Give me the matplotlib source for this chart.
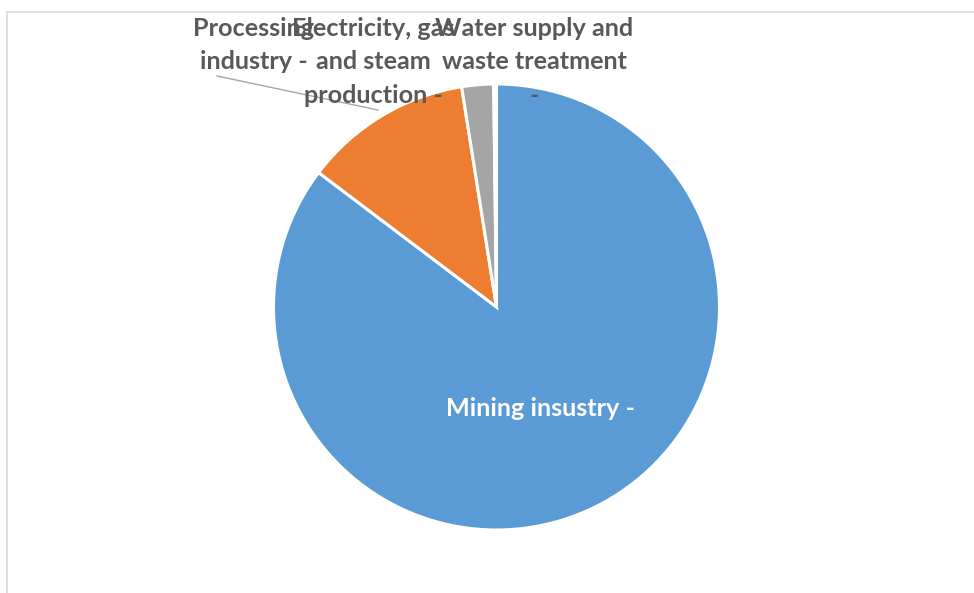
import matplotlib.pyplot as plt
from matplotlib.patches import Rectangle

# Share of output by industry (percent)
sectors = ["Mining insustry -", "Processing\nindustry -",
           "Electricity, gas\nand steam\nproduction -",
           "Water supply and\nwaste treatment\n-"]
shares = [85.3, 12.2, 2.3, 0.2]
colors = ["#5B9BD5", "#ED7D31", "#A5A5A5", "#FFC000"]

W, H = 974, 593
fig = plt.figure(figsize=(W / 100, H / 100), dpi=100)
ax = fig.add_axes([0, 0, 1, 1])

ax.pie(shares, colors=colors, startangle=90, counterclock=False,
       center=(496.5, H - 307), radius=223,
       wedgeprops=dict(edgecolor="white", linewidth=2.2))

# pie() resets the limits, so set the pixel frame afterwards
ax.set_xlim(0, W)
ax.set_ylim(0, H)
ax.set_aspect("equal")
ax.axis("off")

# chart area frame (only top and left edge visible)
ax.add_patch(Rectangle((7, -20), W + 20, H - 12 + 20, fill=False,
                       edgecolor="#d9d9d9", linewidth=1.2))

font = dict(family=["Lato", "DejaVu Sans"], fontweight="bold", fontsize=18.2)
grey = "#595959"

# data labels
ax.text(541, H - 409, sectors[0], color="white", ha="center", va="center", **font)
ax.text(254, H - 17, sectors[1], color=grey, ha="center", va="top",
        linespacing=1.55, **font)
ax.text(373, H - 17, sectors[2], color=grey, ha="center", va="top",
        linespacing=1.55, **font)
ax.text(534, H - 17, sectors[3], color=grey, ha="center", va="top",
        linespacing=1.55, **font)

# leader line for the processing label
ax.plot([217, 378], [H - 76, H - 110], color="#a6a6a6", linewidth=1.0)

fig.savefig("out.png", dpi=100)
